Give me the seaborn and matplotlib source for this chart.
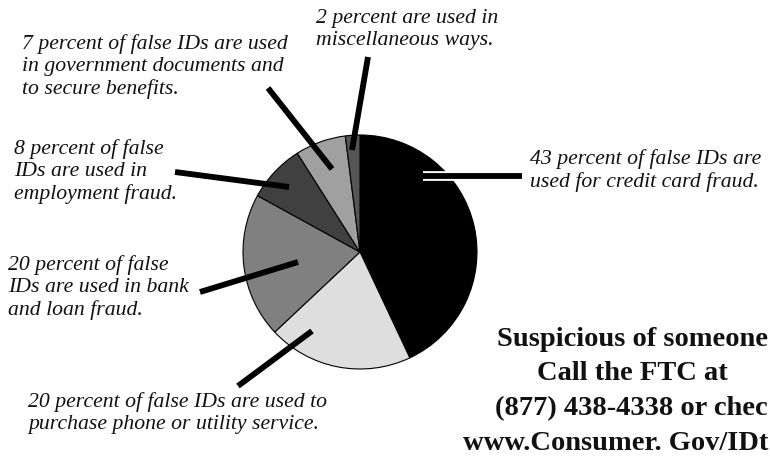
import matplotlib
matplotlib.use("Agg")
import matplotlib.pyplot as plt
import matplotlib.patheffects as pe
import seaborn as sns

# slice data, clockwise from 12 o'clock
shares = [43, 20, 20, 8, 7, 2]
slice_colors = ["#000000", "#dedede", "#808080", "#404040", "#a0a0a0", "#555555"]

labels = [
    "43 percent of false IDs are\nused for credit card fraud.",
    "20 percent of false IDs are used to\npurchase phone or utility service.",
    "20 percent of false\nIDs are used in bank\nand loan fraud.",
    "8 percent of false\nIDs are used in\nemployment fraud.",
    "7 percent of false IDs are used\nin government documents and\nto secure benefits.",
    "2 percent are used in\nmiscellaneous ways.",
]
# label anchor (top-left, pixels from top-left of image)
label_pos = [(530, 149), (28, 392), (8, 255), (14, 139), (22, 34), (316, 9)]
# leader lines: (x0, y0, x1, y1) in pixels from top-left
leaders = [
    (423, 176, 522, 176),
    (238, 386, 312, 331),
    (200, 292, 298, 262),
    (175, 172, 289, 187),
    (268, 88, 332, 169),
    (368, 57, 352, 150),
]

callout = ["Suspicious of someone", "Call the FTC at",
           "(877) 438-4338 or chec", "www.Consumer. Gov/IDt"]
callout_y = [339, 374, 409, 444]

W, H = 770, 457

sns.set_theme(style="white")
plt.rcParams["font.family"] = ["Liberation Serif", "DejaVu Serif"]

fig = plt.figure(figsize=(7.7, 4.57), dpi=100)
ax = fig.add_axes([0, 0, 1, 1])

ax.pie(shares, colors=slice_colors, startangle=90, counterclock=False,
       center=(360, H - 252), radius=117,
       wedgeprops=dict(edgecolor="black", linewidth=0.8))
ax.set_xlim(0, W)
ax.set_ylim(0, H)
ax.set_aspect("auto")
ax.axis("off")

for i, (x0, y0, x1, y1) in enumerate(leaders):
    effects = [pe.Stroke(linewidth=7, foreground="white"), pe.Normal()] if i == 0 else None
    ax.plot([x0, x1], [H - y0, H - y1], color="black", linewidth=4.2,
            solid_capstyle="butt", path_effects=effects, zorder=5)

for txt, (x, y) in zip(labels, label_pos):
    ax.text(x, H - y, txt, fontsize=15.7, style="italic", ha="left", va="top",
            linespacing=1.22, color="#111111")

# the callout runs off the right edge in the original; keep lines right-aligned there
for j, line in enumerate(callout):
    if j == 1:
        ax.text(632, H - callout_y[j], line, fontsize=20.5, fontweight="bold",
                ha="center", va="center", color="#111111")
    else:
        ax.text(768, H - callout_y[j], line, fontsize=20.5, fontweight="bold",
                ha="right", va="center", color="#111111")

fig.savefig("out.png", dpi=100)
